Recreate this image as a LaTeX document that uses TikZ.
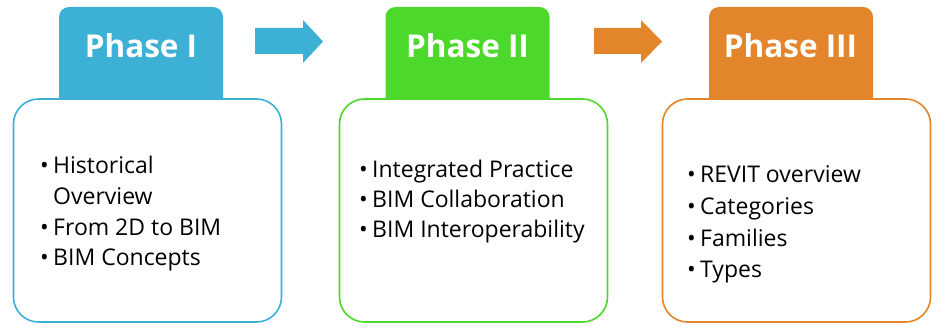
\documentclass[tikz,border=0pt]{standalone}
\usepackage{fontspec}
\setmainfont{Open Sans}
\usepackage{tikz}

\definecolor{phaseblue}{HTML}{3DB0D6}
\definecolor{phasegreen}{HTML}{4CD92C}
\definecolor{phaseorange}{HTML}{E3852A}

\begin{document}
\begin{tikzpicture}
[x=1pt,y=-1pt,
 tab/.style={fill=#1, rounded corners=10pt, minimum width=164pt, minimum height=103pt, inner sep=0pt},
 box/.style={draw=#1, fill=white, line width=1.6pt, rounded corners=25pt, minimum width=268pt, minimum height=223pt, inner sep=0pt},
 title/.style={text=white, font=\bfseries\fontsize{31.5}{36}\selectfont, anchor=base},
 item/.style={font=\fontsize{23}{28}\selectfont, anchor=base west, inner sep=0pt}]
\useasboundingbox (0,0) rectangle (937,326);

% tabs first, the boxes hide their lower corners
\node[tab=phaseblue] (tab1) at (141, 58.5) {};
\node[tab=phasegreen] (tab2) at (467.5, 58.5) {};
\node[tab=phaseorange] (tab3) at (791, 58.5) {};

\node[box=phaseblue] (box1) at (147.5, 210.5) {};
\node[box=phasegreen] (box2) at (473.5, 210.5) {};
\node[box=phaseorange] (box3) at (796.5, 210.5) {};

\node[title] (title1) at (141, 58) {Phase I};
\node[title] (title2) at (467.5, 58) {Phase II};
\node[title] (title3) at (790.5, 58) {Phase III};

% block arrows between the tabs
\fill[phaseblue] (255,28) -- (303,28) -- (303,20) -- (323,41.5) -- (303,63) -- (303,54) -- (255,54) -- cycle;
\fill[phaseorange] (594,28) -- (641,28) -- (641,20) -- (662,41.5) -- (641,63) -- (641,54) -- (594,54) -- cycle;

% bullet lists
\node[item] (a1) at (53, 174) {\llap{•\hspace{4.5pt}}Historical};
\node[item] (a2) at (53, 204.5) {Overview};
\node[item] (a3) at (53, 235) {\llap{•\hspace{4.5pt}}From 2D to BIM};
\node[item] (a4) at (53, 265) {\llap{•\hspace{4.5pt}}BIM Concepts};

\foreach \txt [count=\i] in {Integrated Practice, BIM Collaboration, BIM Interoperability}
  \node[item] (b\i) at (372, 147+30*\i) {\llap{•\hspace{4.5pt}}\txt};

\foreach \txt [count=\i] in {REVIT overview, Categories, Families, Types}
  \node[item] (c\i) at (700, 151+31.7*\i) {\llap{•\hspace{4.5pt}}\txt};
\end{tikzpicture}
\end{document}
